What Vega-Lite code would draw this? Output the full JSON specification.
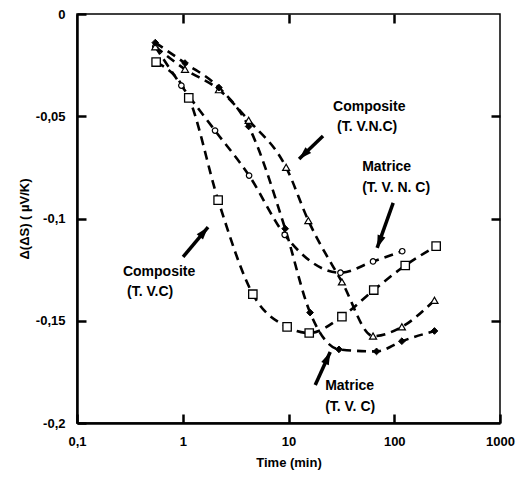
{
  "$schema": "https://vega.github.io/schema/vega-lite/v6.json",
  "width": 423,
  "height": 409,
  "autosize": {"type": "none"},
  "padding": {"left": 77, "top": 14, "right": 17, "bottom": 59},
  "background": "white",
  "config": {
    "font": "Liberation Sans",
    "view": {"stroke": "black", "strokeWidth": 1.5},
    "axis": {
      "grid": false,
      "labelColor": "black",
      "labelFont": "Liberation Sans",
      "labelFontSize": 13,
      "labelFontWeight": "bold",
      "titleColor": "black",
      "titleFont": "Liberation Sans",
      "titleFontSize": 13,
      "titleFontWeight": "bold"
    }
  },
  "datasets": {
    "series": [
      {"series": "Composite (T.V.C)", "t": 0.56, "v": -0.0235},
      {"series": "Composite (T.V.C)", "t": 1.14, "v": -0.041},
      {"series": "Composite (T.V.C)", "t": 2.16, "v": -0.091},
      {"series": "Composite (T.V.C)", "t": 4.6, "v": -0.137},
      {"series": "Composite (T.V.C)", "t": 9.7, "v": -0.153},
      {"series": "Composite (T.V.C)", "t": 15.7, "v": -0.156},
      {"series": "Composite (T.V.C)", "t": 32, "v": -0.148},
      {"series": "Composite (T.V.C)", "t": 64, "v": -0.135},
      {"series": "Composite (T.V.C)", "t": 127, "v": -0.123},
      {"series": "Composite (T.V.C)", "t": 249, "v": -0.1135},

      {"series": "Matrice (T.V.N.C)", "t": 0.55, "v": -0.016},
      {"series": "Matrice (T.V.N.C)", "t": 0.97, "v": -0.035},
      {"series": "Matrice (T.V.N.C)", "t": 2.02, "v": -0.057},
      {"series": "Matrice (T.V.N.C)", "t": 4.24, "v": -0.079},
      {"series": "Matrice (T.V.N.C)", "t": 9.2, "v": -0.108},
      {"series": "Matrice (T.V.N.C)", "t": 31, "v": -0.1265},
      {"series": "Matrice (T.V.N.C)", "t": 63, "v": -0.121},
      {"series": "Matrice (T.V.N.C)", "t": 119, "v": -0.116},

      {"series": "Composite (T.V.N.C)", "t": 0.55, "v": -0.016},
      {"series": "Composite (T.V.N.C)", "t": 1.05, "v": -0.027},
      {"series": "Composite (T.V.N.C)", "t": 2.2, "v": -0.037},
      {"series": "Composite (T.V.N.C)", "t": 4.2, "v": -0.052},
      {"series": "Composite (T.V.N.C)", "t": 9.5, "v": -0.075},
      {"series": "Composite (T.V.N.C)", "t": 15.4, "v": -0.101},
      {"series": "Composite (T.V.N.C)", "t": 32, "v": -0.131},
      {"series": "Composite (T.V.N.C)", "t": 63, "v": -0.1575},
      {"series": "Composite (T.V.N.C)", "t": 118, "v": -0.153},
      {"series": "Composite (T.V.N.C)", "t": 240, "v": -0.14},

      {"series": "Matrice (T.V.C)", "t": 0.55, "v": -0.014},
      {"series": "Matrice (T.V.C)", "t": 1.05, "v": -0.024},
      {"series": "Matrice (T.V.C)", "t": 2.2, "v": -0.036},
      {"series": "Matrice (T.V.C)", "t": 4.2, "v": -0.055},
      {"series": "Matrice (T.V.C)", "t": 9.3, "v": -0.105},
      {"series": "Matrice (T.V.C)", "t": 16, "v": -0.146},
      {"series": "Matrice (T.V.C)", "t": 30, "v": -0.164},
      {"series": "Matrice (T.V.C)", "t": 68, "v": -0.165},
      {"series": "Matrice (T.V.C)", "t": 118, "v": -0.16},
      {"series": "Matrice (T.V.C)", "t": 240, "v": -0.155}
    ],
    "notes": [
      {"text": "Composite", "t": 26.4, "v": -0.0455},
      {"text": "(T. V.N.C)", "t": 28.8, "v": -0.0553},
      {"text": "Matrice", "t": 49.7, "v": -0.0748},
      {"text": "(T. V. N. C)", "t": 49.7, "v": -0.0851},
      {"text": "Composite", "t": 0.272, "v": -0.126},
      {"text": "(T. V.C)", "t": 0.297, "v": -0.136},
      {"text": "Matrice", "t": 22.2, "v": -0.182},
      {"text": "(T. V. C)", "t": 22.2, "v": -0.192}
    ],
    "arrows": [
      {"arrow": "a1", "t": 21.2, "v": -0.0597, "t2": 12.6, "v2": -0.0709},
      {"arrow": "a2", "t": 97.7, "v": -0.0924, "t2": 68.9, "v2": -0.1144},
      {"arrow": "a3", "t": 1.007, "v": -0.1188, "t2": 1.735, "v2": -0.1042},
      {"arrow": "a4", "t": 17.9, "v": -0.1814, "t2": 24.8, "v2": -0.1653}
    ]
  },
  "resolve": {"axis": {"x": "independent", "y": "independent"}},
  "layer": [
    {
      "data": {"name": "series"},
      "mark": {"type": "line", "interpolate": "monotone", "color": "black", "strokeWidth": 2.6, "strokeDash": [9, 6]},
      "encoding": {
        "x": {
          "field": "t", "type": "quantitative",
          "scale": {"type": "log", "domain": [0.1, 1000], "nice": false},
          "axis": {
            "orient": "bottom",
            "title": "Time (min)",
            "values": [0.1, 1, 10, 100, 1000],
            "format": "~g",
            "labelExpr": "replace(datum.label, '.', ',')",
            "labelFlush": false,
            "labelOverlap": false,
            "domainColor": "black",
            "domainWidth": 2.5,
            "tickColor": "black",
            "tickWidth": 2.5,
            "tickSize": -9,
            "labelPadding": 21,
            "titlePadding": 8
          }
        },
        "y": {
          "field": "v", "type": "quantitative",
          "scale": {"domain": [-0.2, 0], "nice": false, "zero": false},
          "axis": {
            "orient": "left",
            "title": "Δ(ΔS) ( µV/K)",
            "values": [0, -0.05, -0.1, -0.15, -0.2],
            "format": "~g",
            "labelExpr": "replace(replace(datum.label, '.', ','), '−', '-')",
            "labelFlush": false,
            "labelOverlap": false,
            "domainColor": "black",
            "domainWidth": 2.5,
            "tickColor": "black",
            "tickWidth": 2.5,
            "tickSize": -9,
            "labelPadding": 21,
            "titlePadding": 4
          }
        },
        "detail": {"field": "series"}
      }
    },
    {
      "data": {"name": "series"},
      "transform": [{"filter": "datum.series === 'Composite (T.V.C)'"}],
      "mark": {"type": "point", "shape": "square", "filled": true, "fill": "white", "stroke": "black", "strokeWidth": 1.3, "size": 70, "opacity": 1},
      "encoding": {
        "x": {"field": "t", "type": "quantitative", "axis": null},
        "y": {"field": "v", "type": "quantitative", "axis": null}
      }
    },
    {
      "data": {"name": "series"},
      "transform": [{"filter": "datum.series === 'Matrice (T.V.N.C)'"}],
      "mark": {"type": "point", "shape": "circle", "filled": true, "fill": "white", "stroke": "black", "strokeWidth": 1.2, "size": 30, "opacity": 1},
      "encoding": {
        "x": {"field": "t", "type": "quantitative", "axis": null},
        "y": {"field": "v", "type": "quantitative", "axis": null}
      }
    },
    {
      "data": {"name": "series"},
      "transform": [{"filter": "datum.series === 'Composite (T.V.N.C)'"}],
      "mark": {"type": "point", "shape": "triangle-up", "filled": true, "fill": "white", "stroke": "black", "strokeWidth": 1.2, "size": 50, "opacity": 1},
      "encoding": {
        "x": {"field": "t", "type": "quantitative", "axis": null},
        "y": {"field": "v", "type": "quantitative", "axis": null}
      }
    },
    {
      "data": {"name": "series"},
      "transform": [{"filter": "datum.series === 'Matrice (T.V.C)'"}],
      "mark": {"type": "point", "shape": "diamond", "filled": true, "fill": "black", "stroke": "black", "strokeWidth": 1, "size": 45, "opacity": 1},
      "encoding": {
        "x": {"field": "t", "type": "quantitative", "axis": null},
        "y": {"field": "v", "type": "quantitative", "axis": null}
      }
    },
    {
      "data": {"name": "notes"},
      "mark": {"type": "text", "align": "left", "baseline": "middle", "font": "Liberation Sans", "fontSize": 14, "fontWeight": "bold", "color": "black"},
      "encoding": {
        "x": {"field": "t", "type": "quantitative", "axis": null},
        "y": {"field": "v", "type": "quantitative", "axis": null},
        "text": {"field": "text"}
      }
    },
    {
      "data": {"name": "arrows"},
      "mark": {"type": "rule", "color": "black", "strokeWidth": 3.5},
      "encoding": {
        "x": {
          "field": "t", "type": "quantitative",
          "axis": {"orient": "top", "values": [1, 10, 100], "labels": false, "domain": false, "title": null, "tickColor": "black", "tickWidth": 2.5, "tickSize": -9}
        },
        "y": {
          "field": "v", "type": "quantitative",
          "axis": {"orient": "right", "values": [-0.05, -0.1, -0.15], "labels": false, "domain": false, "title": null, "tickColor": "black", "tickWidth": 2.5, "tickSize": -9}
        },
        "x2": {"field": "t2"},
        "y2": {"field": "v2"}
      }
    },
    {
      "data": {"name": "arrows"},
      "transform": [{"filter": "datum.arrow === 'a1'"}],
      "mark": {"type": "point", "shape": "M0,0L0.55,1.7L-0.55,1.7Z", "filled": true, "color": "black", "opacity": 1, "size": 225, "angle": 226},
      "encoding": {
        "x": {"field": "t2", "type": "quantitative", "axis": null},
        "y": {"field": "v2", "type": "quantitative", "axis": null}
      }
    },
    {
      "data": {"name": "arrows"},
      "transform": [{"filter": "datum.arrow === 'a2'"}],
      "mark": {"type": "point", "shape": "M0,0L0.55,1.7L-0.55,1.7Z", "filled": true, "color": "black", "opacity": 1, "size": 225, "angle": 200},
      "encoding": {
        "x": {"field": "t2", "type": "quantitative", "axis": null},
        "y": {"field": "v2", "type": "quantitative", "axis": null}
      }
    },
    {
      "data": {"name": "arrows"},
      "transform": [{"filter": "datum.arrow === 'a3'"}],
      "mark": {"type": "point", "shape": "M0,0L0.55,1.7L-0.55,1.7Z", "filled": true, "color": "black", "opacity": 1, "size": 225, "angle": 40},
      "encoding": {
        "x": {"field": "t2", "type": "quantitative", "axis": null},
        "y": {"field": "v2", "type": "quantitative", "axis": null}
      }
    },
    {
      "data": {"name": "arrows"},
      "transform": [{"filter": "datum.arrow === 'a4'"}],
      "mark": {"type": "point", "shape": "M0,0L0.55,1.7L-0.55,1.7Z", "filled": true, "color": "black", "opacity": 1, "size": 225, "angle": 24},
      "encoding": {
        "x": {"field": "t2", "type": "quantitative", "axis": null},
        "y": {"field": "v2", "type": "quantitative", "axis": null}
      }
    }
  ]
}
